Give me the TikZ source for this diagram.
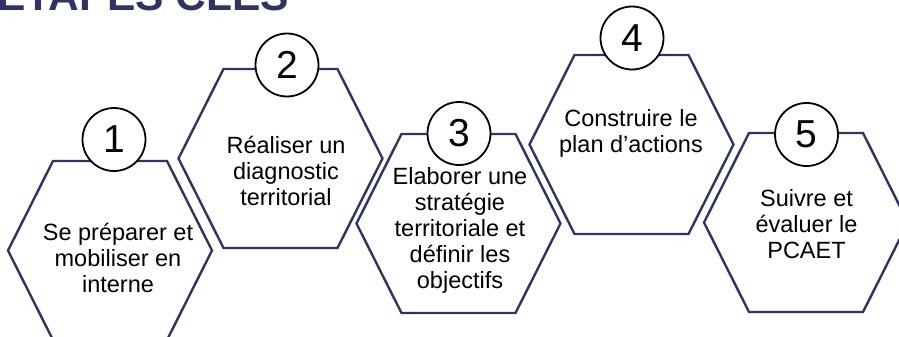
\documentclass[tikz,border=0pt]{standalone}
\usepackage{fontspec}
\setmainfont{Liberation Sans}
\definecolor{navy}{HTML}{2E3466}
\tikzset{
  hexline/.style={draw=navy, line width=2.4pt},
  hexa/.pic={\path[hexline] (-102,0) -- (-57,-89.5) -- (57,-89.5) -- (102,0) -- (57,89.5) -- (-57,89.5) -- cycle;},
  numcirc/.style={circle, draw=black, line width=1.8pt, fill=white, minimum size=63pt, inner sep=0pt, font=\fontsize{39}{42}\selectfont},
  steptext/.style={align=center, anchor=base, font=\fontsize{23.5}{26}\selectfont, inner sep=0pt},
  titletext/.style={anchor=base west, inner sep=0pt, text=navy, font=\bfseries\fontsize{42.5}{46}\selectfont}
}
\begin{document}
\begin{tikzpicture}[x=1pt,y=-1pt]
\useasboundingbox (0,0) rectangle (899,337);
\clip (0,0) rectangle (899,337);
\node[titletext] (title) at (-3,10.5) {ETAPES CLES};
% hexagon centres
\coordinate (h1) at (110,250.5);
\coordinate (h2) at (280.5,158.5);
\coordinate (h3) at (458.5,223.5);
\coordinate (h4) at (631.5,144.5);
\coordinate (h5) at (806,222.5);
\foreach \h in {h1,h2,h3,h4,h5} { \pic at (\h) {hexa}; }
% numbers
\node[numcirc] (c1) at (114,139.5) {1};
\node[numcirc] (c2) at (287,65) {2};
\node[numcirc] (c3) at (459,133.5) {3};
\node[numcirc] (c4) at (632,38) {4};
\node[numcirc] (c5) at (806.5,134.5) {5};
% texts (anchored at the baseline of the last line)
\node[steptext] (t1) at (118,292) {Se préparer et\\mobiliser en\\interne};
\node[steptext] (t2) at (286,205) {Réaliser un\\diagnostic\\territorial};
\node[steptext] (t3) at (460,288) {Elaborer une\\stratégie\\territoriale et\\définir les\\objectifs};
\node[steptext] (t4) at (631,152) {Construire le\\plan d’actions};
\node[steptext] (t5) at (806.5,258) {Suivre et\\évaluer le\\PCAET};
\end{tikzpicture}
\end{document}
